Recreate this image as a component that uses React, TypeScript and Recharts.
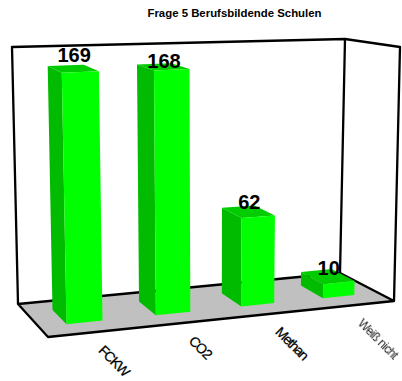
import { Bar, BarChart, LabelList, XAxis, YAxis } from 'recharts';

const categories = ['FCKW', 'CO2', 'Methan', 'Weiß nicht'];
const values = [169, 168, 62, 10];
const chartData = categories.map((name, i) => ({ name, value: values[i] }));

const WIDTH = 402;
const HEIGHT = 381;
const PLOT_TOP = 40;
const AXIS_HEIGHT = 40;
const PLOT_BOTTOM = HEIGHT - AXIS_HEIGHT;
const Y_MAX = 180;

const FONT = '"Liberation Sans", Arial, sans-serif';

// corners of the 3D box on screen
const floorBackLeft = [18, 304];
const floorBackRight = [340, 273];
const floorFrontLeft = [48, 337];
const floorFrontRight = [394, 301];
const topBackLeft = [12, 47];
const topBackRight = [345, 39];
const topFrontLeft = [42, 62];
const topFrontRight = [400, 47];

// how far the bars sit inside the floor, 0 = back wall, 1 = front edge
const BAR_BACK = 0.26;
const BAR_FRONT = 0.7;

// vertical fine-tuning of the value labels
const labelShift = [-7, 1, -3, -2];

const mix = (a: number[], b: number[], t: number) => [
  a[0] + (b[0] - a[0]) * t,
  a[1] + (b[1] - a[1]) * t,
];

// u across, d towards the viewer, h up; all 0..1
function project(u: number, d: number, h: number) {
  const w = u * (1.09 - 0.09 * u); // foreshortening to the right
  const floor = mix(mix(floorBackLeft, floorBackRight, w), mix(floorFrontLeft, floorFrontRight, w), d);
  const roof = mix(mix(topBackLeft, topBackRight, w), mix(topFrontLeft, topFrontRight, w), d);
  return mix(floor, roof, h);
}

const toPoints = (pts: number[][]) => pts.map((p) => `${p[0].toFixed(1)},${p[1].toFixed(1)}`).join(' ');

const heightOf = (y: number) => (PLOT_BOTTOM - y) / (PLOT_BOTTOM - PLOT_TOP);

function Bar3D({ x, y, width }: any) {
  const u1 = x / WIDTH;
  const u2 = (x + width) / WIDTH;
  const h = heightOf(y);
  const front = [
    project(u1, BAR_FRONT, h),
    project(u2, BAR_FRONT, h),
    project(u2, BAR_FRONT, 0),
    project(u1, BAR_FRONT, 0),
  ];
  const side = [
    project(u1, BAR_BACK, h),
    project(u1, BAR_FRONT, h),
    project(u1, BAR_FRONT, 0),
    project(u1, BAR_BACK, 0),
  ];
  const top = [
    project(u1, BAR_BACK, h),
    project(u2, BAR_BACK, h),
    project(u2, BAR_FRONT, h),
    project(u1, BAR_FRONT, h),
  ];
  return (
    <g>
      <polygon points={toPoints(side)} fill="#00bb00" />
      <polygon points={toPoints(top)} fill="#00cc00" />
      <polygon points={toPoints(front)} fill="#00ff00" />
    </g>
  );
}

function ValueLabel({ x, y, width, value, index }: any) {
  const u = (x + width / 2) / WIDTH;
  const p = project(u, (BAR_BACK + BAR_FRONT) / 2, heightOf(y));
  return (
    <text
      x={p[0] + 1}
      y={p[1] + labelShift[index]}
      textAnchor="middle"
      fontFamily={FONT}
      fontWeight="bold"
      fontSize={20}
      fill="#000"
    >
      {value}
    </text>
  );
}

function CategoryTick({ x, payload, index }: any) {
  const p = project(x / WIDTH, 1, 0);
  const tx = p[0] + 3;
  const ty = p[1] + 19;
  const faint = index === categories.length - 1;
  return (
    <text
      x={tx}
      y={ty}
      transform={`rotate(45 ${tx} ${ty})`}
      fontFamily={FONT}
      fontSize={faint ? 12 : 14}
      letterSpacing={faint ? -0.6 : -1.2}
      fill={faint ? '#222' : '#000'}
      stroke={faint ? 'none' : '#000'}
      strokeWidth={0.25}
      filter={faint ? 'url(#soft)' : undefined}
    >
      {payload.value}
    </text>
  );
}

function Frame() {
  const line = { stroke: '#000', strokeWidth: 2.3, fill: 'none', strokeLinejoin: 'round' as const };
  return (
    <g>
      <defs>
        <filter id="soft">
          <feGaussianBlur stdDeviation="0.5" />
        </filter>
      </defs>
      <polygon points={toPoints([floorBackLeft, floorBackRight, floorFrontRight, floorFrontLeft])} fill="#c0c0c0" />
      <polygon points={toPoints([floorBackLeft, floorBackRight, floorFrontRight, floorFrontLeft])} {...line} />
      <polyline points={toPoints([floorBackLeft, topBackLeft, topBackRight, floorBackRight])} {...line} />
      <polyline points={toPoints([topBackRight, topFrontRight, floorFrontRight])} {...line} />
    </g>
  );
}

export default function App() {
  return (
    <div style={{ position: 'absolute', left: 0, top: 0, width: WIDTH, height: HEIGHT, background: '#fff' }}>
      <BarChart
        width={WIDTH}
        height={HEIGHT}
        data={chartData}
        margin={{ top: PLOT_TOP, right: 0, bottom: 0, left: 0 }}
        barCategoryGap="30%"
      >
        <text x={234.5} y={17} textAnchor="middle" fontFamily={FONT} fontWeight="bold" fontSize={11.4} fill="#000">
          Frage 5 Berufsbildende Schulen
        </text>
        <Frame />
        <XAxis dataKey="name" height={AXIS_HEIGHT} axisLine={false} tickLine={false} interval={0} tick={CategoryTick} />
        <YAxis hide domain={[0, Y_MAX]} />
        <Bar dataKey="value" shape={Bar3D} isAnimationActive={false}>
          <LabelList dataKey="value" content={ValueLabel} />
        </Bar>
      </BarChart>
    </div>
  );
}
